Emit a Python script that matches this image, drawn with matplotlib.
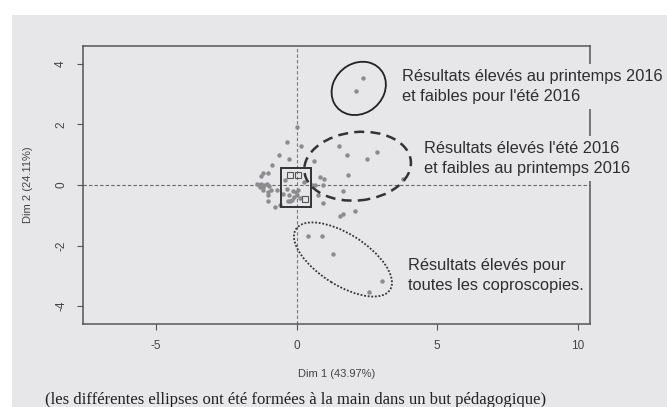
import matplotlib
matplotlib.use('Agg')
import matplotlib.pyplot as plt
from matplotlib.patches import Ellipse, Rectangle

plt.rcParams['axes.unicode_minus'] = False

# individuals (Dim 1, Dim 2)
dim1 = [0.03, -0.35, 0.15, -0.62, -0.26, 0.63, -0.87, -1.21, -1.02, -1.26,
        -0.41, 0.28, 1.52, 1.78, 2.52, 2.87, 1.84, 0.83, 0.98, 3.77,
        0.93, 1.66, 0.75, 0.93, 1.55, 1.66, 2.08, -1.41, -1.35, -1.28,
        -1.22, -1.15, -1.05, -0.98, -1.30, -1.18, 0.54, 0.66, -1.21, -0.90,
        -0.70, -0.33, -0.11, -0.03, 0.04, -1.00, -0.47, -0.26, -0.08, 0.03,
        0.12, -0.31, -0.15, -1.02, -0.76, -0.59, -0.23, -1.00, 0.42, 0.92,
        1.31, 3.05, 2.59, 2.35, 2.11]
dim2 = [1.90, 1.42, 1.28, 0.98, 0.87, 0.78, 0.65, 0.40, 0.38, 0.29,
        0.16, 0.10, 1.28, 1.00, 0.85, 1.09, 0.34, 0.26, 0.21, 0.21,
        0.01, -0.21, -0.33, -0.61, -1.04, -0.97, -0.86, 0.03, 0.00, 0.02,
        -0.02, 0.00, 0.03, -0.03, -0.06, -0.05, -0.01, 0.01, -0.18, -0.15,
        -0.18, -0.12, -0.20, -0.23, -0.18, -0.34, -0.31, -0.34, -0.40, -0.34,
        -0.42, -0.53, -0.50, -0.53, -0.73, -0.67, -0.54, -0.23, -1.69, -1.69,
        -2.28, -3.17, -3.54, 3.52, 3.11]

# supplementary points (hollow squares)
sq_dim1 = [-0.24, 0.04, 0.30]
sq_dim2 = [0.33, 0.33, -0.46]

labels = ["Résultats élevés au printemps 2016\net faibles pour l'été 2016",
          "Résultats élevés l'été 2016\net faibles au printemps 2016",
          "Résultats élevés pour\ntoutes les coproscopies."]
label_x = [3.75, 4.53, 3.96]
label_y = [3.25, 0.87, -2.99]

bg = '#e7e7e9'
grey = '#555555'

fig = plt.figure(figsize=(6.67, 4.07), dpi=100, facecolor='white')
fig.patches.append(Rectangle((12 / 667, 0), 1, 1 - 15 / 407, transform=fig.transFigure,
                             facecolor=bg, edgecolor='none', zorder=-10))
ax = fig.add_axes([0.124, 0.2032, 0.761, 0.6845])
ax.set_facecolor(bg)

ax.axhline(0, color='#666666', lw=0.8, ls=(0, (3, 2)), zorder=1)
ax.axvline(0, color='#777777', lw=0.8, ls=(0, (3, 2)), zorder=1)

ax.plot(dim1, dim2, 'o', color='#8c8c8c', ms=3.2, mew=0, zorder=3)
ax.plot(sq_dim1, sq_dim2, 's', mfc='none', mec='#555555', ms=4, mew=0.8, zorder=3)

# hand drawn groups
ax.add_patch(Rectangle((-0.55, -0.73), 1.07, 1.29, fill=False, ec='#333333', lw=1.4, zorder=4))
ax.add_patch(Ellipse((2.21, 3.19), 2.0, 1.68, angle=29, fill=False, ec='#222222', lw=1.3, zorder=4))
ax.add_patch(Ellipse((2.17, 0.62), 3.8, 2.26, angle=5, fill=False, ec='#333333', lw=1.8,
                     ls=(0, (4, 2.5)), zorder=4))
ax.add_patch(Ellipse((1.65, -2.46), 3.9, 1.71, angle=-30, fill=False, ec='#333333', lw=1.3,
                     ls=(0, (1, 1)), zorder=4))

for t, x, y in zip(labels, label_x, label_y):
    ax.text(x, y, t, ha='left', va='center', fontsize=11.8, color='#2e2e2e',
            family=['Liberation Sans', 'DejaVu Sans'], linespacing=1.38, zorder=6,
            bbox=dict(boxstyle='square,pad=0.3', fc=bg, ec='none'))

ax.set_xlim(-7.6, 10.44)
ax.set_ylim(-4.6, 4.6)
ax.set_xticks([-5, 0, 5, 10])
ax.set_yticks([-4, -2, 0, 2, 4])
for s in ax.spines.values():
    s.set_color(grey)
    s.set_linewidth(1.1)
ax.tick_params(length=4.3, width=0.8, color=grey, pad=7, labelsize=8.5, labelcolor='#444444')
for lab in ax.get_yticklabels():
    lab.set_rotation(90)
    lab.set_va('center')
narrow = ['Liberation Sans Narrow', 'Liberation Sans', 'DejaVu Sans']
for lab in ax.get_xticklabels() + ax.get_yticklabels():
    lab.set_family(narrow)

ax.set_xlabel('Dim 1 (43.97%)', fontsize=8, color='#444444', family=narrow)
ax.set_ylabel('Dim 2 (24.11%)', fontsize=8, color='#444444', family=narrow)
ax.xaxis.set_label_coords(0.5, -0.16)
ax.yaxis.set_label_coords(-0.098, 0.5)

fig.text(296 / 667, 1 - 400 / 407,
         '(les différentes ellipses ont été formées à la main dans un but pédagogique)',
         ha='center', va='center', fontsize=12, color='#222222',
         family=['Liberation Serif', 'DejaVu Serif'])

fig.savefig('out.png', dpi=100, facecolor='white')
